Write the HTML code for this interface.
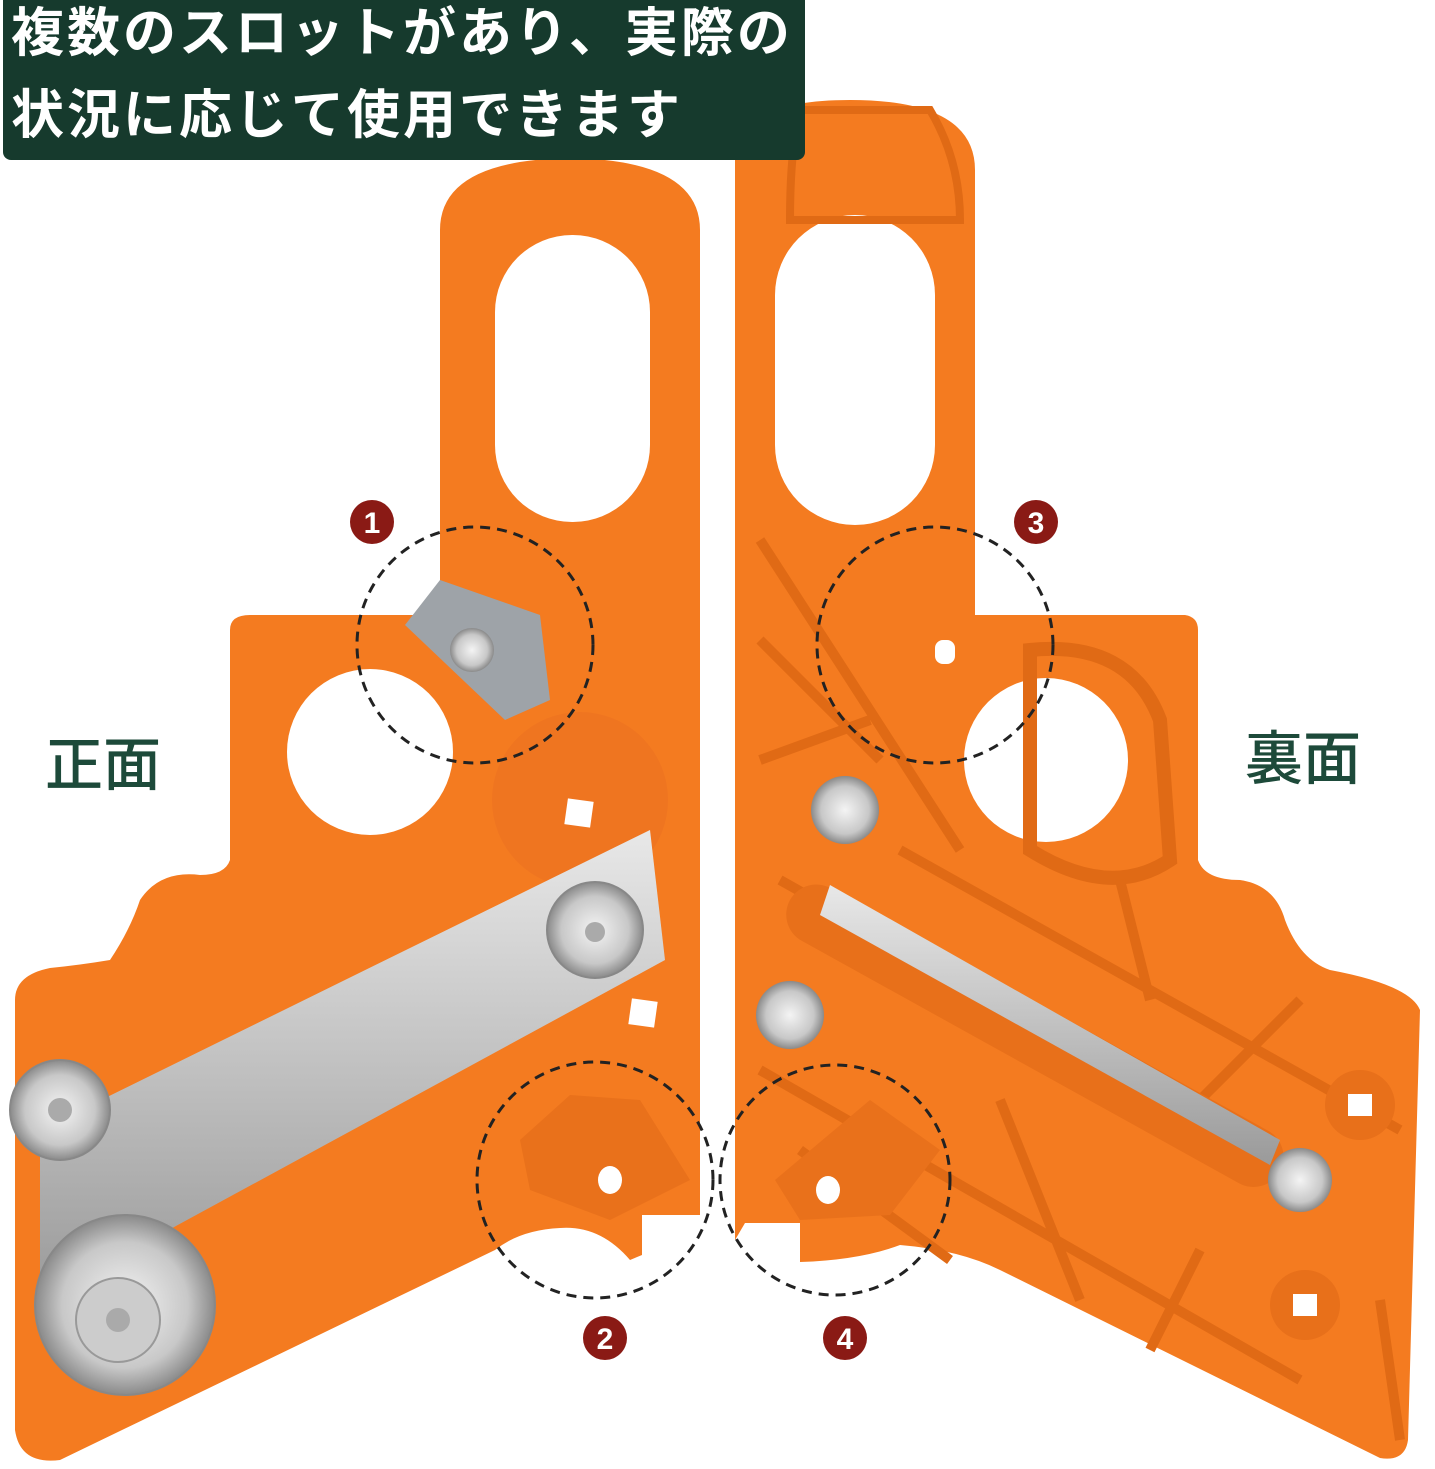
<!DOCTYPE html>
<html><head><meta charset="utf-8"><style>
html,body{margin:0;padding:0;background:#fff;width:1435px;height:1469px;overflow:hidden}
.box{position:absolute;left:3px;top:0;width:802px;height:160px;background:#163a2d;border-radius:0 0 8px 8px;color:#fff;font-family:"Liberation Sans","Noto Sans CJK JP",sans-serif;font-size:53px;line-height:56px;letter-spacing:3px;font-weight:bold}
.box div{position:absolute;left:8px}
.lbl{position:absolute;font-family:"Liberation Sans","Noto Sans CJK JP",sans-serif;font-size:58px;color:#1d4a3a;font-weight:500}
</style></head><body>
<svg width="1435" height="1469" style="position:absolute;left:0;top:0">
<defs>
<linearGradient id="bl" x1="0" y1="0" x2="0" y2="1"><stop offset="0" stop-color="#e8e8e8"/><stop offset="1" stop-color="#9a9a9a"/></linearGradient>
<radialGradient id="dk"><stop offset="0" stop-color="#f4f4f4"/><stop offset="0.7" stop-color="#c8c8c8"/><stop offset="1" stop-color="#8a8a8a"/></radialGradient>
</defs>
<!-- left piece -->
<path d="M440,230 Q440,160 570,158 Q700,160 700,230 L700,1215 L642,1215 L642,1255 L630,1260 Q600,1225 560,1228 Q520,1230 495,1250 L60,1460 Q20,1465 15,1430 L15,1000 Q15,975 50,968 Q80,965 110,960 Q130,930 140,900 Q160,870 200,875 Q225,875 230,860 L230,630 Q230,615 250,615 L440,615 Z" fill="#f47b20"/>
<!-- right piece -->
<path d="M735,160 Q735,100 850,100 Q975,100 975,170 L975,615 L1185,615 Q1198,617 1198,630 L1198,860 Q1205,880 1240,880 Q1275,885 1285,920 Q1300,960 1330,970 Q1410,985 1420,1010 L1408,1440 Q1405,1462 1380,1458 L1000,1270 Q960,1250 900,1245 Q860,1260 800,1262 L800,1223 L745,1223 L735,1240 Z" fill="#f47b20"/>
<!-- holes -->
<rect x="495" y="235" width="155" height="287" rx="77" fill="#fff"/>
<circle cx="370" cy="752" r="83" fill="#fff"/>
<rect x="775" y="215" width="160" height="310" rx="80" fill="#fff"/>
<circle cx="1046" cy="760" r="82" fill="#fff"/>
<path d="M1030,650 Q1130,640 1160,720 L1170,860 Q1110,900 1030,850 Z" fill="none" stroke="#e06a15" stroke-width="14"/>
<path d="M800,110 L930,110 Q960,160 960,220 L790,220 Q790,150 800,110 Z" fill="none" stroke="#e06a15" stroke-width="8"/>
<!-- ribs on right piece -->
<g stroke="#e06a15" stroke-width="10" fill="none">
<path d="M760,540 L960,850 M760,640 L880,760 M760,760 L870,720 M780,880 L1100,1060 M900,850 L1400,1130 M760,1070 L1300,1380 M1000,1100 L1080,1300 M1200,1250 L1150,1350 M1300,1000 L1200,1100 M1120,880 L1150,1000 M1380,1300 L1400,1440 M800,1150 L950,1260"/>
</g>
<rect x="790" y="870" width="560" height="60" rx="30" transform="rotate(29 790 900)" fill="#e8701a"/>
<polygon points="820,915 830,885 1280,1140 1270,1165" fill="url(#bl)"/>
<circle cx="1300" cy="1180" r="32" fill="url(#dk)"/>
<circle cx="845" cy="810" r="34" fill="url(#dk)"/>
<circle cx="790" cy="1015" r="34" fill="url(#dk)"/>
<circle cx="1360" cy="1105" r="35" fill="#e8701a"/><rect x="1348" y="1094" width="24" height="22" fill="#fff"/>
<circle cx="1305" cy="1305" r="35" fill="#e8701a"/><rect x="1293" y="1294" width="24" height="22" fill="#fff"/>
<rect x="935" y="640" width="20" height="24" rx="8" fill="#fff"/>
<path d="M775,1180 L870,1100 L940,1150 L890,1215 L800,1220 Z" fill="#e9711b"/>
<ellipse cx="828" cy="1190" rx="12" ry="14" fill="#fff"/>
<!-- left details -->
<circle cx="580" cy="800" r="88" fill="#ef7520"/>
<rect x="566" y="800" width="26" height="26" fill="#fff" transform="rotate(8 579 813)"/>
<rect x="630" y="1000" width="26" height="26" fill="#fff" transform="rotate(8 643 1013)"/>
<path d="M520,1140 L570,1095 L640,1100 L690,1180 L610,1220 L530,1190 Z" fill="#e9711b"/>
<ellipse cx="610" cy="1180" rx="12" ry="14" fill="#fff"/>
<polygon points="405,625 440,580 540,615 550,700 505,720" fill="#9ea3a8"/>
<circle cx="472" cy="650" r="22" fill="url(#dk)"/>
<polygon points="40,1130 650,830 665,960 40,1300" fill="url(#bl)"/>
<circle cx="595" cy="930" r="48" fill="url(#dk)" stroke="#888" stroke-width="2"/>
<circle cx="595" cy="932" r="10" fill="#aaa"/>
<circle cx="60" cy="1110" r="50" fill="url(#dk)" stroke="#888" stroke-width="2"/>
<circle cx="60" cy="1110" r="12" fill="#aaa"/>
<circle cx="125" cy="1305" r="90" fill="url(#dk)" stroke="#888" stroke-width="2"/>
<circle cx="118" cy="1320" r="42" fill="#ccc" stroke="#999" stroke-width="2"/>
<circle cx="118" cy="1320" r="12" fill="#aaa"/>
<!-- dashed circles -->
<g fill="none" stroke="#222" stroke-width="3" stroke-dasharray="10 7">
<circle cx="475" cy="645" r="118"/>
<circle cx="935" cy="645" r="118"/>
<circle cx="595" cy="1180" r="118"/>
<circle cx="835" cy="1180" r="115"/>
</g>
<g font-family="Liberation Sans,sans-serif" font-weight="bold" font-size="30" fill="#fff" text-anchor="middle">
<circle cx="372" cy="522" r="22" fill="#8a1a15"/><text x="372" y="533">1</text>
<circle cx="1036" cy="522" r="22" fill="#8a1a15"/><text x="1036" y="533">3</text>
<circle cx="605" cy="1338" r="22" fill="#8a1a15"/><text x="605" y="1349">2</text>
<circle cx="845" cy="1338" r="22" fill="#8a1a15"/><text x="845" y="1349">4</text>
</g>
</svg>
<div class="box"><div style="top:6px">複数のスロットがあり、実際の</div><div style="top:88px">状況に応じて使用できます</div></div>
<div class="lbl" style="left:45px;top:718px">正面</div>
<div class="lbl" style="left:1245px;top:712px">裏面</div>
</body></html>
